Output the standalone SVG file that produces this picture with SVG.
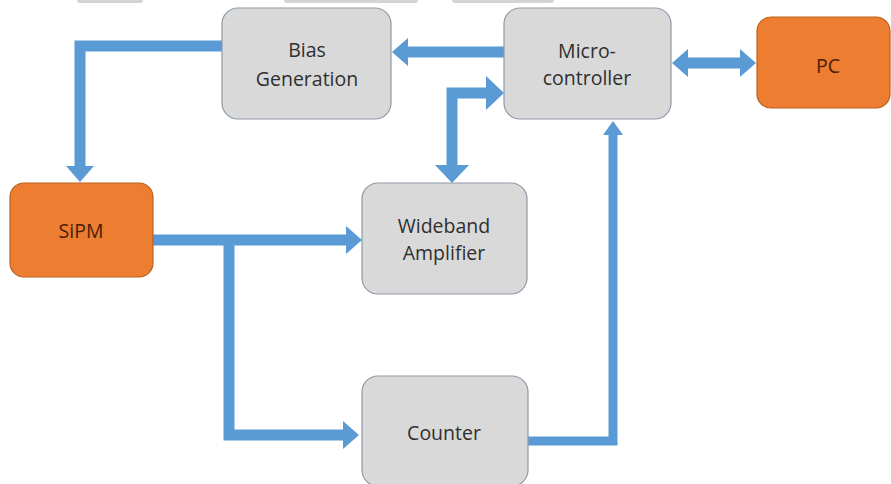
<svg xmlns="http://www.w3.org/2000/svg" width="891" height="484" viewBox="0 0 891 484">
  <style>
    .grey { fill: #d9d9d9; stroke: #8e9aa6; stroke-width: 1.2; }
    .orange { fill: #ed7d31; stroke: #b9621f; stroke-width: 1.2; }
    .lbl { font-family: "Open Sans", "Liberation Sans", sans-serif; font-size: 19.5px; fill: #2f2f2f; text-anchor: middle; }
    .lblo { font-family: "Open Sans", "Liberation Sans", sans-serif; font-size: 19.5px; fill: #4a1e06; text-anchor: middle; }
    .conn { fill: none; stroke: #5b9bd5; stroke-width: 11; stroke-linejoin: miter; }
    .thin { stroke-width: 9; }
    .head { fill: #5b9bd5; }
    .art { fill: #d4d4d4; }
  </style>
  <defs>
    <marker id="ah" markerUnits="userSpaceOnUse" viewBox="0 0 16 28" markerWidth="16" markerHeight="28" refX="1" refY="14" orient="auto-start-reverse">
      <path class="head" d="M0,0 L16,14 L0,28 Z"/>
    </marker>
    <marker id="ahBig" markerUnits="userSpaceOnUse" viewBox="0 0 18 34" markerWidth="18" markerHeight="34" refX="1" refY="17" orient="auto-start-reverse">
      <path class="head" d="M0,0 L18,17 L0,34 Z"/>
    </marker>
    <marker id="ahSmall" markerUnits="userSpaceOnUse" viewBox="0 0 14 20" markerWidth="14" markerHeight="20" refX="1" refY="10" orient="auto-start-reverse">
      <path class="head" d="M0,0 L14,10 L0,20 Z"/>
    </marker>
  </defs>
  <rect width="891" height="484" fill="#ffffff"/>

  <!-- page artifacts at top edge -->
  <rect class="art" x="77" y="-4" width="66" height="7" rx="3"/>
  <rect class="art" x="284" y="-4" width="134" height="7" rx="3"/>
  <rect class="art" x="452" y="-4" width="102" height="7" rx="3"/>

  <g id="connectors">
    <!-- Microcontroller -> Bias Generation -->
    <polyline class="conn" points="504,52 407,52" marker-end="url(#ah)"/>
    <!-- Bias Generation -> SiPM -->
    <polyline class="conn" points="222,46 80,46 80,167" marker-end="url(#ah)"/>
    <!-- Microcontroller <-> Wideband Amplifier -->
    <polyline class="conn" points="487,93 452,93 452,166" marker-start="url(#ahBig)" marker-end="url(#ahBig)"/>
    <!-- Counter -> Microcontroller -->
    <polyline class="conn thin" points="528,441 613,441 613,134" marker-end="url(#ahSmall)"/>
    <!-- SiPM -> Wideband Amplifier -->
    <polyline class="conn" points="153,240 347,240" marker-end="url(#ah)"/>
    <!-- SiPM -> Counter -->
    <polyline class="conn" points="229,240 229,435 344,435" marker-end="url(#ah)"/>
    <!-- Microcontroller <-> PC -->
    <polyline class="conn" points="687,63 741,63" marker-start="url(#ah)" marker-end="url(#ah)"/>
  </g>

  <g id="bias">
    <rect class="grey" x="222" y="8" width="169" height="111" rx="16"/>
    <text class="lbl" x="307" y="57">Bias</text>
    <text class="lbl" x="307" y="86">Generation</text>
  </g>
  <g id="micro">
    <rect class="grey" x="504" y="8" width="167" height="111" rx="16"/>
    <text class="lbl" x="587" y="58">Micro-</text>
    <text class="lbl" x="587" y="85">controller</text>
  </g>
  <g id="pc">
    <rect class="orange" x="757" y="17" width="133" height="91" rx="14"/>
    <text class="lblo" x="828" y="73">PC</text>
  </g>
  <g id="sipm">
    <rect class="orange" x="10" y="183" width="143" height="94" rx="14"/>
    <text class="lblo" x="81" y="238">SiPM</text>
  </g>
  <g id="wideband">
    <rect class="grey" x="362" y="183" width="165" height="111" rx="16"/>
    <text class="lbl" x="444" y="233">Wideband</text>
    <text class="lbl" x="444" y="260">Amplifier</text>
  </g>
  <g id="counter">
    <rect class="grey" x="362" y="376" width="166" height="110" rx="16"/>
    <text class="lbl" x="444" y="440">Counter</text>
  </g>
</svg>
